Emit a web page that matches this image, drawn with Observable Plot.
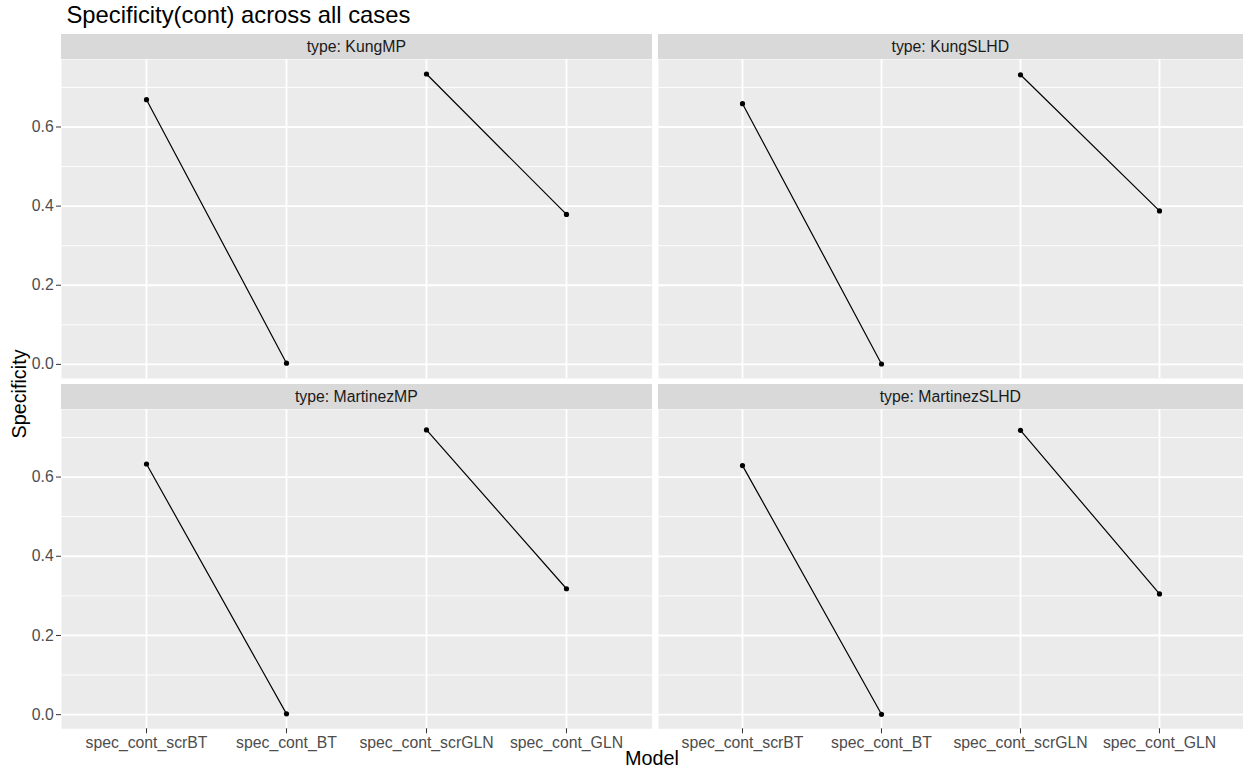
<!DOCTYPE html>
<html>
<head>
<meta charset="utf-8">
<script src="https://cdn.jsdelivr.net/npm/d3@7"></script>
<script src="https://cdn.jsdelivr.net/npm/@observablehq/plot@0.6"></script>
<style>
  html, body { margin: 0; padding: 0; background: #fff; }
  #wrap { position: relative; width: 1243px; height: 774px; background: #fff; overflow: hidden;
          font-family: "Liberation Sans", Arial, sans-serif; }
  .strip { position: absolute; background: #D9D9D9; color: #1A1A1A; font-size: 15.8px;
           display: flex; align-items: center; justify-content: center; }
  .txt { position: absolute; white-space: nowrap; line-height: 1; color: #000; }
</style>
</head>
<body>
<div id="wrap"></div>
<script>
// ---- data ----
const types = ["KungMP", "KungSLHD", "MartinezMP", "MartinezSLHD"];
const models = ["spec_cont_scrBT", "spec_cont_BT", "spec_cont_scrGLN", "spec_cont_GLN"];
const pairs = ["BT", "BT", "GLN", "GLN"];
const kungMP = [0.669, 0.003, 0.734, 0.379];
const kungSLHD = [0.659, 0.001, 0.732, 0.388];
const martinezMP = [0.633, 0.002, 0.719, 0.318];
const martinezSLHD = [0.629, 0.001, 0.718, 0.305];
const yTicks = [0, 0.2, 0.4, 0.6];
const yMinor = [0.1, 0.3, 0.5, 0.7];
const titleText = "Specificity(cont) across all cases";
const xTitle = "Model";
const yTitle = "Specificity";

const seriesByType = {KungMP: kungMP, KungSLHD: kungSLHD, MartinezMP: martinezMP, MartinezSLHD: martinezSLHD};
const rows = [];
for (const t of types) seriesByType[t].forEach((v, i) => rows.push({type: t, model: models[i], pair: pairs[i], value: v}));

// shared y domain, ggplot-style 5% expansion
const [ymin, ymax] = d3.extent(rows, d => d.value);
const pad = (ymax - ymin) * 0.05;
const yDomain = [ymin - pad, ymax + pad];

const wrap = document.getElementById("wrap");
const FONT = '"Liberation Sans", Arial, sans-serif';

// layout
const colX = [[61, 651.7], [657.7, 1243]];
const rowY = [[34.3, 59.3, 378.3], [384.3, 409, 728.3]]; // strip top, panel top, panel bottom

types.forEach((t, k) => {
  const r = Math.floor(k / 2), c = k % 2;
  const [px0, px1] = colX[c];
  const [sTop, pTop, pBot] = rowY[r];
  const showY = c === 0, showX = r === 1;
  const ml = showY ? px0 : 0;
  const mb = showX ? 45 : 0;
  const svgLeft = showY ? 0 : px0;
  const w = (px1 - px0) + ml;
  const h = (pBot - pTop) + mb;
  const data = rows.filter(d => d.type === t);

  const marks = [
    Plot.frame({fill: "#EBEBEB", stroke: null}),
    Plot.ruleY(yMinor, {stroke: "#FFFFFF", strokeWidth: 0.9}),
    Plot.ruleY(yTicks, {stroke: "#FFFFFF", strokeWidth: 1.8}),
    Plot.ruleX(models, {stroke: "#FFFFFF", strokeWidth: 1.8}),
    Plot.line(data, {x: "model", y: "value", z: "pair", stroke: "#000000", strokeWidth: 1.2}),
    Plot.dot(data, {x: "model", y: "value", r: 2.6, fill: "#000000", stroke: null})
  ];
  if (showY) marks.push(Plot.axisY(yTicks, {tickFormat: d3.format(".1f"), tickSize: 5, tickPadding: 2.8,
      label: null, color: "#4D4D4D", fontSize: 15.8, stroke: "#333333"}));
  if (showX) marks.push(Plot.axisX(models, {tickSize: 5, tickPadding: 2.5, label: null,
      color: "#4D4D4D", fontSize: 15.8, stroke: "#333333"}));

  const chart = Plot.plot({
    width: w, height: h,
    marginLeft: ml, marginRight: 0, marginTop: 0, marginBottom: mb,
    x: {type: "point", domain: models, padding: 0.6, axis: null},
    y: {domain: yDomain, axis: null},
    style: {background: "transparent", fontFamily: FONT, fontSize: "15.8px", overflow: "visible"},
    marks
  });
  chart.style.position = "absolute";
  chart.style.left = svgLeft + "px";
  chart.style.top = pTop + "px";
  chart.style.overflow = "visible";
  wrap.appendChild(chart);

  const s = document.createElement("div");
  s.className = "strip";
  s.style.left = px0 + "px";
  s.style.top = sTop + "px";
  s.style.width = (px1 - px0) + "px";
  s.style.height = (pTop - sTop) + "px";
  s.textContent = "type: " + t;
  wrap.appendChild(s);
});

// title
const title = document.createElement("div");
title.className = "txt";
title.style.left = "66.5px";
title.style.top = "3.2px";
title.style.fontSize = "23.8px";
title.textContent = titleText;
wrap.appendChild(title);

// x title
const xt = document.createElement("div");
xt.className = "txt";
xt.style.left = "652px";
xt.style.top = "749px";
xt.style.fontSize = "19.8px";
xt.style.transform = "translateX(-50%)";
xt.textContent = xTitle;
wrap.appendChild(xt);

// y title
const yt = document.createElement("div");
yt.className = "txt";
yt.style.left = "20px";
yt.style.top = "394px";
yt.style.fontSize = "19.8px";
yt.style.transform = "translate(-50%,-50%) rotate(-90deg)";
yt.textContent = yTitle;
wrap.appendChild(yt);
</script>
</body>
</html>
